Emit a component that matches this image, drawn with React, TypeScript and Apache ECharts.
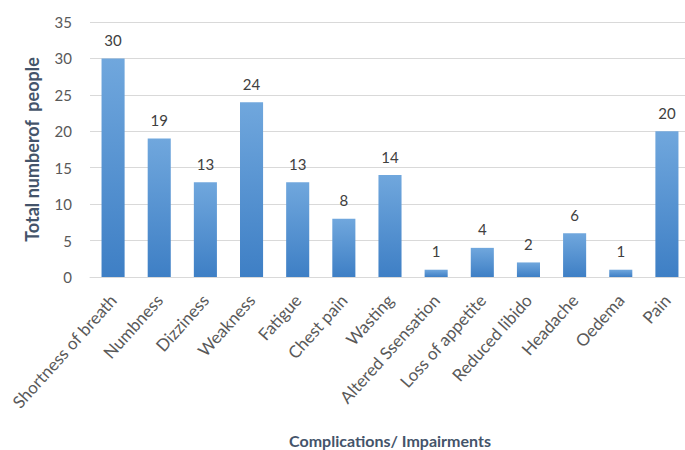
import React, { useEffect, useRef } from "react";
import * as echarts from "echarts";

const categories = [
  "Shortness of breath",
  "Numbness",
  "Dizziness",
  "Weakness",
  "Fatigue",
  "Chest pain",
  "Wasting",
  "Altered Ssensation",
  "Loss of appetite",
  "Reduced libido",
  "Headache",
  "Oedema",
  "Pain",
];
const counts = [30, 19, 13, 24, 13, 8, 14, 1, 4, 2, 6, 1, 20];
const yTicks = { min: 0, max: 35, interval: 5 };

const FONT = "Lato, 'Open Sans', sans-serif";

export default function App() {
  const ref = useRef<HTMLDivElement>(null);

  useEffect(() => {
    document.body.style.margin = "0";
    if (!ref.current) return;
    const chart = echarts.init(ref.current, undefined, { renderer: "svg" });
    chart.setOption({
      animation: false,
      backgroundColor: "#ffffff",
      grid: {
        left: 90,
        top: 22,
        height: 255,
        width: 600,
        containLabel: false,
        outerBoundsMode: "none",
      },
      xAxis: {
        type: "category",
        data: categories,
        name: "Complications/ Impairments",
        nameLocation: "middle",
        nameGap: 155,
        nameTextStyle: {
          color: "#44546a",
          fontSize: 16,
          fontWeight: "bold",
          fontFamily: FONT,
        },
        axisLine: { lineStyle: { color: "#d9d9d9" } },
        axisTick: { show: false },
        axisLabel: {
          rotate: 48,
          interval: 0,
          color: "#595959",
          fontSize: 17,
          fontFamily: FONT,
          margin: 20,
        },
      },
      yAxis: {
        type: "value",
        min: yTicks.min,
        max: yTicks.max,
        interval: yTicks.interval,
        name: "Total numberof  people",
        nameLocation: "middle",
        nameGap: 49,
        nameTextStyle: {
          color: "#44546a",
          fontSize: 18,
          fontWeight: "bold",
          fontFamily: FONT,
          padding: [0, 0, 0, 0],
        },
        axisLine: { show: false },
        axisTick: { show: false },
        axisLabel: { color: "#595959", fontSize: 15, fontFamily: FONT, margin: 18 },
        splitLine: { lineStyle: { color: "#d9d9d9" } },
      },
      series: [
        {
          type: "bar",
          data: counts,
          barWidth: "50%",
          itemStyle: {
            color: new echarts.graphic.LinearGradient(0, 0, 0, 1, [
              { offset: 0, color: "#70a7dd" },
              { offset: 1, color: "#3e7fc5" },
            ]),
          },
          label: {
            show: true,
            position: "top",
            distance: 11,
            color: "#404040",
            fontSize: 15,
            fontFamily: FONT,
          },
        },
      ],
    });
    return () => chart.dispose();
  }, []);

  return <div ref={ref} style={{ width: 685, height: 450 }} />;
}
